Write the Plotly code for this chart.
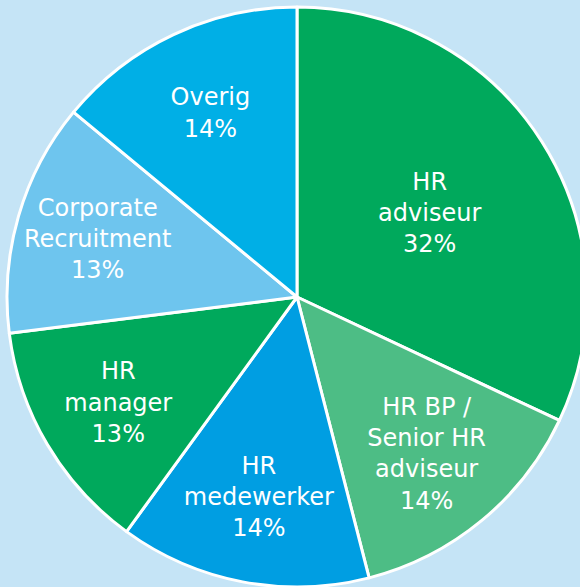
import plotly.graph_objects as go

labels = ["HR<br>adviseur", "HR BP /<br>Senior HR<br>adviseur", "HR<br>medewerker",
          "HR<br>manager", "Corporate<br>Recruitment", "Overig"]
values = [32, 14, 14, 13, 13, 14]
colors = ["#00a95c", "#4dbd85", "#009ee2", "#00a95c", "#6ec5ee", "#00afe6"]
BG = "#c5e4f6"

fig = go.Figure(go.Pie(
    labels=labels,
    values=values,
    sort=False,
    direction="clockwise",
    rotation=0,
    marker=dict(colors=colors, line=dict(color="white", width=3)),
    texttemplate="%{label}<br>%{percent:.0%}",
    textposition="inside",
    insidetextorientation="horizontal",
    textfont=dict(family="DejaVu Sans", size=24, color="white"),
    showlegend=False,
    hoverinfo="label+percent",
))

fig.update_layout(
    width=587, height=587,
    margin=dict(l=7, r=0, t=7, b=0),
    paper_bgcolor=BG,
    plot_bgcolor=BG,
    uniformtext=dict(minsize=24, mode="show"),
)

fig.write_html(
    "out.html",
    config={"displayModeBar": False},
    post_script=("document.body.style.margin='0';"
                 "document.body.style.overflow='hidden';"
                 "document.body.style.background='" + BG + "';"),
)
